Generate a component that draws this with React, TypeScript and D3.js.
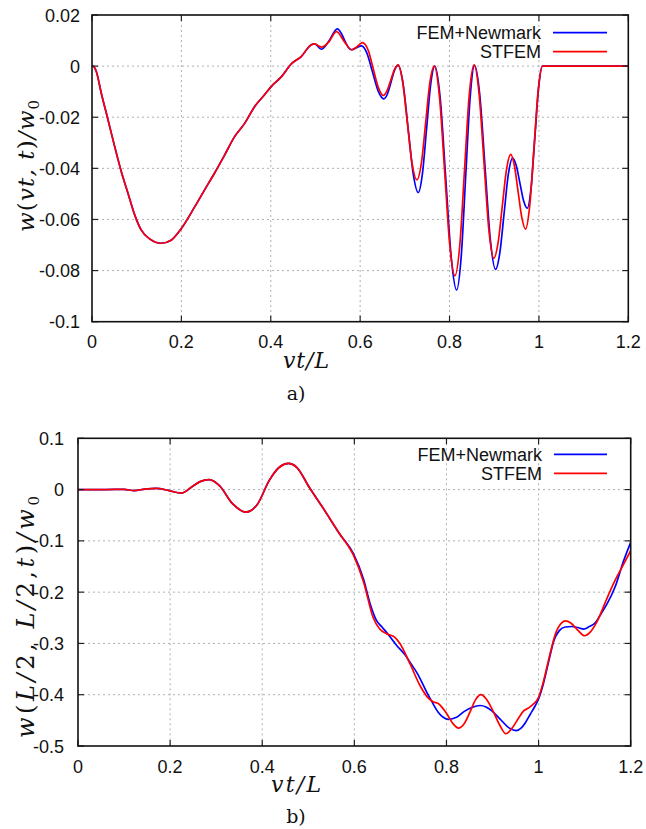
import React from 'react';
import * as d3 from 'd3';

type Pt = [number, number];

// ---------- Panel a) : w(vt,t)/w0 ----------
const topXTicks = [0, 0.2, 0.4, 0.6, 0.8, 1, 1.2];
const topYTicks = [0.02, 0, -0.02, -0.04, -0.06, -0.08, -0.1];

const topShared: Pt[] = [
  [0, 0], [0.002, 0], [0.0096, -0.0021], [0.0208, -0.0106], [0.0358, -0.021], [0.0508, -0.0315],
  [0.0656, -0.0413], [0.0805, -0.0497], [0.0955, -0.0582], [0.11, -0.0641], [0.129, -0.0676],
  [0.155, -0.0693], [0.177, -0.0681], [0.2, -0.0635], [0.23, -0.055], [0.252, -0.0484],
  [0.274, -0.0419], [0.297, -0.0347], [0.319, -0.0276], [0.342, -0.0223], [0.364, -0.0158],
  [0.386, -0.0112], [0.401, -0.008], [0.424, -0.0041], [0.446, 0.0009], [0.468, 0.0037],
  [0.49, 0.0083], [0.498, 0.0087],
];

const topStfemTail: Pt[] = [
  [0.513, 0.0074], [0.53, 0.0095], [0.547, 0.0135], [0.565, 0.0095], [0.581, 0.0064], [0.593, 0.0076],
  [0.605, 0.0092], [0.618, 0.0062], [0.6295, -0.0012], [0.641, -0.0085], [0.652, -0.0115], [0.66, -0.0097],
  [0.6685, -0.0055], [0.677, -0.0013], [0.685, 0.0005], [0.695, -0.0061], [0.7055, -0.022], [0.716, -0.0379],
  [0.727, -0.0445], [0.737, -0.038], [0.7465, -0.0223], [0.756, -0.0065], [0.766, 0], [0.7775, -0.012],
  [0.789, -0.041], [0.8005, -0.07], [0.812, -0.082], [0.823, -0.07], [0.8335, -0.0408], [0.844, -0.0115],
  [0.855, 0.0005], [0.866, -0.0106], [0.877, -0.0374], [0.888, -0.0641], [0.899, -0.0752], [0.9085, -0.0693],
  [0.918, -0.0549], [0.9275, -0.0404], [0.937, -0.0345], [0.945, -0.0388], [0.9535, -0.0492], [0.962, -0.0595],
  [0.97, -0.0638], [0.9795, -0.0545], [0.989, -0.0319], [0.9985, -0.0093], [1.008, 0], [1.2, 0],
];

const topFemTail: Pt[] = [
  [0.513, 0.0066], [0.53, 0.0098], [0.549, 0.0146], [0.558, 0.0128], [0.566, 0.0098], [0.574, 0.0072],
  [0.581, 0.0064], [0.592, 0.0072], [0.603, 0.0079], [0.6155, 0.0049], [0.628, -0.0025], [0.6405, -0.0098],
  [0.653, -0.0128], [0.661, -0.0109], [0.669, -0.0063], [0.677, -0.0016], [0.685, 0.0003], [0.69625, -0.007],
  [0.7075, -0.0246], [0.71875, -0.0422], [0.73, -0.0495], [0.73925, -0.0423], [0.7485, -0.0248],
  [0.75775, -0.0072], [0.767, 0], [0.77925, -0.0128], [0.7915, -0.0438], [0.80375, -0.0748], [0.816, -0.0876],
  [0.826, -0.0748], [0.836, -0.0437], [0.846, -0.0125], [0.856, 0.0003], [0.86775, -0.0114], [0.8795, -0.0396],
  [0.89125, -0.0678], [0.903, -0.0795], [0.9125, -0.0731], [0.922, -0.0578], [0.9315, -0.0424], [0.941, -0.036],
  [0.94925, -0.0389], [0.9575, -0.0458], [0.96575, -0.0527], [0.974, -0.0556], [0.9825, -0.0475],
  [0.991, -0.0278], [0.9995, -0.0081], [1.008, 0], [1.2, 0],
];

// ---------- Panel b) : w(L/2, L/2, t)/w0 ----------
const botXTicks = [0, 0.2, 0.4, 0.6, 0.8, 1, 1.2];
const botYTicks = [0.1, 0, -0.1, -0.2, -0.3, -0.4, -0.5];

const botShared: Pt[] = [
  [0, 0], [0.06, 0], [0.1, 0.0005], [0.122, -0.002], [0.145, 0.001], [0.169, 0.0025], [0.198, -0.002],
  [0.224, -0.007], [0.246, 0.0045], [0.265, 0.0155], [0.285, 0.0195], [0.307, 0.0078], [0.336, -0.028],
  [0.365, -0.044], [0.39, -0.028], [0.415, 0.0175], [0.437, 0.0435], [0.457, 0.051], [0.475, 0.0435],
  [0.502, 0.0045], [0.531, -0.0345], [0.567, -0.085],
];

const botStfemTail: Pt[] = [
  [0.598, -0.128], [0.62, -0.18], [0.641, -0.25], [0.655, -0.272], [0.67, -0.281], [0.688, -0.288],
  [0.699, -0.3], [0.721, -0.34], [0.743, -0.383], [0.761, -0.407], [0.772, -0.414], [0.782, -0.417],
  [0.8, -0.436], [0.813, -0.455], [0.826, -0.465], [0.838, -0.457], [0.851, -0.434], [0.863, -0.41],
  [0.875, -0.4], [0.886, -0.408], [0.898, -0.426], [0.916, -0.46], [0.929, -0.476], [0.945, -0.462],
  [0.957, -0.445], [0.967, -0.432], [0.978, -0.426], [0.989, -0.418], [1.0, -0.405], [1.01, -0.376],
  [1.025, -0.32], [1.036, -0.283], [1.05, -0.26], [1.058, -0.256], [1.07, -0.26], [1.085, -0.274],
  [1.1, -0.285], [1.113, -0.277], [1.126, -0.259], [1.148, -0.213], [1.166, -0.177], [1.185, -0.145],
  [1.2, -0.119],
];

const botFemTail: Pt[] = [
  [0.598, -0.125], [0.62, -0.175], [0.634, -0.222], [0.648, -0.255], [0.66, -0.268], [0.674, -0.283],
  [0.692, -0.304], [0.71, -0.322], [0.721, -0.337], [0.735, -0.356], [0.743, -0.369], [0.757, -0.395],
  [0.768, -0.413], [0.782, -0.434], [0.793, -0.444], [0.804, -0.448], [0.822, -0.444], [0.838, -0.433],
  [0.855, -0.425], [0.873, -0.421], [0.886, -0.424], [0.898, -0.431], [0.916, -0.447], [0.938, -0.466],
  [0.951, -0.47], [0.962, -0.465], [0.971, -0.455], [0.982, -0.438], [0.993, -0.421], [1.0, -0.408],
  [1.01, -0.38], [1.022, -0.335], [1.033, -0.295], [1.045, -0.275], [1.058, -0.268], [1.072, -0.267],
  [1.085, -0.269], [1.098, -0.272], [1.11, -0.267], [1.123, -0.26], [1.135, -0.243], [1.148, -0.224],
  [1.166, -0.19], [1.185, -0.138], [1.2, -0.103],
];

const seriesNames = ['FEM+Newmark', 'STFEM'];
const seriesColors = ['#0000ff', '#ff0000'];

const W = 646;
const H = 829;

const fmt = (v: number) => (v === 0 ? '0' : String(+v.toFixed(2)));

type Box = { left: number; right: number; top: number; bottom: number };

function Panel(props: {
  id: string;
  box: Box;
  xTicks: number[];
  yTicks: number[];
  fem: Pt[];
  stfem: Pt[];
  yLabelGap: number;
  legendTextX: number;
  legendLine: [number, number];
  legendY: [number, number];
}) {
  const { id, box, xTicks, yTicks, fem, stfem, yLabelGap, legendTextX, legendLine, legendY } = props;
  const x = d3.scaleLinear().domain([0, 1.2]).range([box.left, box.right]);
  const y = d3
    .scaleLinear()
    .domain([yTicks[yTicks.length - 1], yTicks[0]])
    .range([box.bottom, box.top]);
  const line = d3
    .line<Pt>()
    .x((d) => x(d[0]))
    .y((d) => y(d[1]))
    .curve(d3.curveMonotoneX);
  const tick = 6;
  const tickFont = { fontFamily: 'Liberation Sans, Arial, sans-serif', fontSize: 18, fill: '#111' };
  return (
    <g>
      <defs>
        <clipPath id={`clip-${id}`}>
          <rect x={box.left} y={box.top} width={box.right - box.left} height={box.bottom - box.top} />
        </clipPath>
      </defs>
      {xTicks.slice(1, -1).map((t) => (
        <line key={'gx' + t} x1={x(t)} x2={x(t)} y1={box.top} y2={box.bottom} stroke="#b0b0b0" strokeWidth={1} strokeDasharray="2,3" />
      ))}
      {yTicks.slice(1, -1).map((t) => (
        <line key={'gy' + t} x1={box.left} x2={box.right} y1={y(t)} y2={y(t)} stroke="#b0b0b0" strokeWidth={1} strokeDasharray="2,3" />
      ))}
      <g clipPath={`url(#clip-${id})`}>
        <path d={line(fem) || ''} fill="none" stroke={seriesColors[0]} strokeWidth={1.7} />
        <path d={line(stfem) || ''} fill="none" stroke={seriesColors[1]} strokeWidth={1.7} />
      </g>
      {xTicks.map((t) => (
        <g key={'tx' + t}>
          <line x1={x(t)} x2={x(t)} y1={box.bottom} y2={box.bottom - tick} stroke="#222" strokeWidth={1.2} />
          <line x1={x(t)} x2={x(t)} y1={box.top} y2={box.top + tick} stroke="#222" strokeWidth={1.2} />
          <text x={x(t)} y={box.bottom + 26.5} textAnchor="middle" {...tickFont}>
            {fmt(t)}
          </text>
        </g>
      ))}
      {yTicks.map((t) => (
        <g key={'ty' + t}>
          <line x1={box.left} x2={box.left + tick} y1={y(t)} y2={y(t)} stroke="#222" strokeWidth={1.2} />
          <line x1={box.right} x2={box.right - tick} y1={y(t)} y2={y(t)} stroke="#222" strokeWidth={1.2} />
          <text x={box.left - yLabelGap} y={y(t) + 6.5} textAnchor="end" {...tickFont}>
            {fmt(t)}
          </text>
        </g>
      ))}
      <rect x={box.left} y={box.top} width={box.right - box.left} height={box.bottom - box.top} fill="none" stroke="#111" strokeWidth={1.6} />
      {seriesNames.map((n, i) => (
        <g key={n}>
          <text x={legendTextX} y={legendY[i] + 6.5} textAnchor="end" fontFamily="Liberation Sans, Arial, sans-serif" fontSize={18} fill="#111">
            {n}
          </text>
          <line x1={legendLine[0]} x2={legendLine[1]} y1={legendY[i]} y2={legendY[i]} stroke={seriesColors[i]} strokeWidth={1.7} />
        </g>
      ))}
    </g>
  );
}

const serif = 'DejaVu Serif, Liberation Serif, serif';

export default function App() {
  const topBox: Box = { left: 92, right: 628.3, top: 15, bottom: 321.7 };
  const botBox: Box = { left: 78, right: 630.7, top: 438.3, bottom: 746 };
  return (
    <svg width={W} height={H} style={{ position: 'absolute', left: 0, top: 0, background: '#fff' }}>
      <rect x={0} y={0} width={W} height={H} fill="#fff" />
      <Panel
        id="a"
        box={topBox}
        xTicks={topXTicks}
        yTicks={topYTicks}
        fem={[...topShared, ...topFemTail]}
        stfem={[...topShared, ...topStfemTail]}
        yLabelGap={12}
        legendTextX={541}
        legendLine={[553, 607]}
        legendY={[32.7, 51.7]}
      />
      <Panel
        id="b"
        box={botBox}
        xTicks={botXTicks}
        yTicks={botYTicks}
        fem={[...botShared, ...botFemTail]}
        stfem={[...botShared, ...botStfemTail]}
        yLabelGap={14}
        legendTextX={542}
        legendLine={[554, 607]}
        legendY={[454.3, 473.3]}
      />
      <text x={306} y={368} textAnchor="middle" fontFamily={serif} fontStyle="italic" fontSize={22} textLength={46} lengthAdjust="spacing" fill="#111">
        vt/L
      </text>
      <text transform="translate(34,166) rotate(-90)" textAnchor="middle" fontFamily={serif} fontSize={23} fill="#111" textLength={132} lengthAdjust="spacing">
        <tspan fontStyle="italic">w</tspan>
        <tspan>(</tspan>
        <tspan fontStyle="italic">vt, t</tspan>
        <tspan>)</tspan>
        <tspan fontStyle="italic">/w</tspan>
        <tspan fontSize={15} dy={5}>0</tspan>
      </text>
      <text x={296} y={400} textAnchor="middle" fontFamily={serif} fontSize={19} fill="#111">
        a)
      </text>
      <text x={296} y={792} textAnchor="middle" fontFamily={serif} fontStyle="italic" fontSize={22} textLength={50} lengthAdjust="spacing" fill="#111">
        vt/L
      </text>
      <text transform="translate(34,617) rotate(-90)" textAnchor="middle" fontFamily={serif} fontSize={24} fill="#111" textLength={242} lengthAdjust="spacing">
        <tspan fontStyle="italic">w</tspan>
        <tspan>(</tspan>
        <tspan fontStyle="italic">L/</tspan>
        <tspan>2, </tspan>
        <tspan fontStyle="italic">L/</tspan>
        <tspan>2,</tspan>
        <tspan fontStyle="italic">t</tspan>
        <tspan>)</tspan>
        <tspan fontStyle="italic">/w</tspan>
        <tspan fontSize={15} dy={5}>0</tspan>
      </text>
      <text x={296} y={823} textAnchor="middle" fontFamily={serif} fontSize={19} fill="#111">
        b)
      </text>
    </svg>
  );
}
